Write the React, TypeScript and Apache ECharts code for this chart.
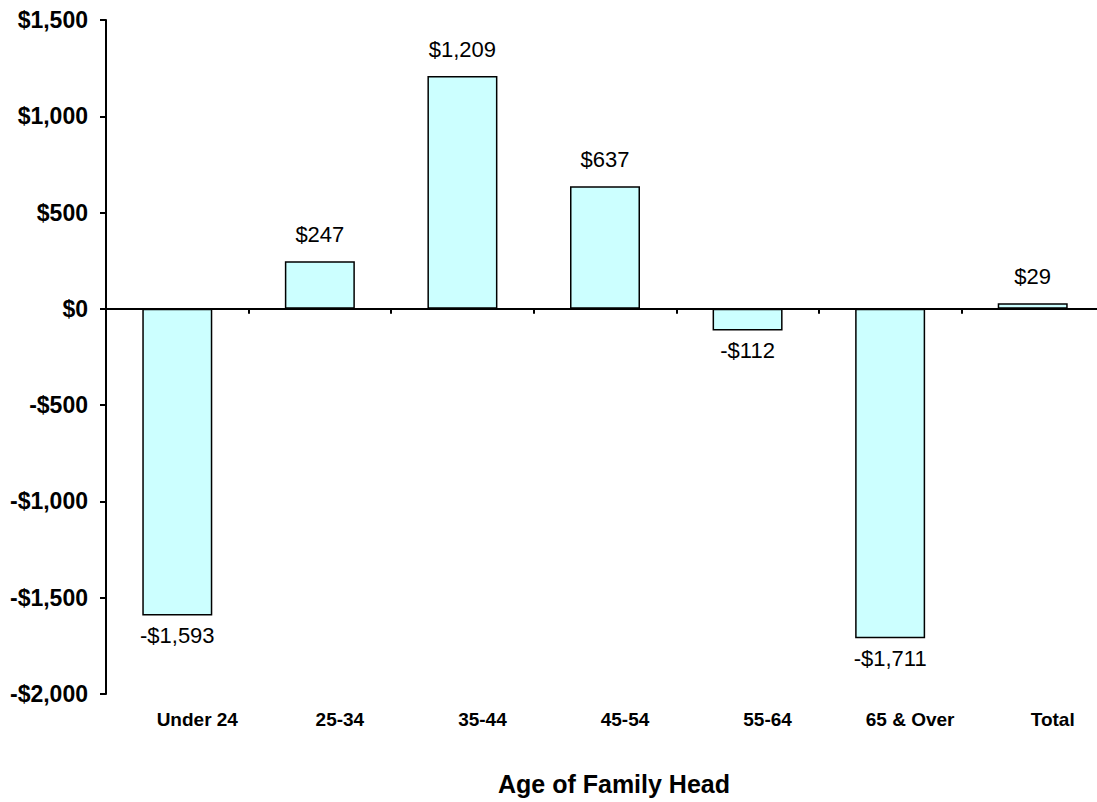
import React, { useEffect, useRef } from "react";
import * as echarts from "echarts";

const categories = ["Under 24", "25-34", "35-44", "45-54", "55-64", "65 & Over", "Total"];
const values = [-1593, 247, 1209, 637, -112, -1711, 29];
const yTicks = { min: -2000, max: 1500, interval: 500 };
const xAxisTitle = "Age of Family Head";

const money = (v: number) => {
  const s = "$" + Math.abs(v).toLocaleString("en-US");
  return v < 0 ? "-" + s : s;
};

export default function App() {
  const ref = useRef<HTMLDivElement>(null);

  useEffect(() => {
    document.body.style.margin = "0";
    document.body.style.overflow = "hidden";
    const chart = echarts.init(ref.current!, undefined, { renderer: "svg" });
    const font = "Arial, 'Liberation Sans', Helvetica, sans-serif";
    chart.setOption({
      animation: false,
      backgroundColor: "#ffffff",
      textStyle: { fontFamily: font },
      // the plot runs a few pixels past the right edge of the page
      grid: { left: 106, right: 0, top: 20, bottom: 108 },
      xAxis: [
        {
          type: "category",
          data: categories,
          position: "bottom",
          axisLine: { show: false, onZero: false },
          axisTick: { show: false },
          axisLabel: {
            margin: 16,
            fontSize: 19,
            fontWeight: "bold",
            color: "#000",
            fontFamily: font,
            padding: [0, 0, 0, 40],
          },
          splitLine: { show: false },
        },
        {
          type: "category",
          data: categories,
          position: "bottom",
          axisLine: { show: true, onZero: true, lineStyle: { color: "#000", width: 2 } },
          axisTick: { show: true, length: 5, lineStyle: { color: "#000", width: 2 } },
          axisLabel: { show: false },
          splitLine: { show: false },
        },
      ],
      yAxis: {
        type: "value",
        min: yTicks.min,
        max: yTicks.max,
        interval: yTicks.interval,
        axisLine: { show: true, lineStyle: { color: "#000", width: 2 } },
        axisTick: { show: true, length: 6, lineStyle: { color: "#000", width: 2 } },
        splitLine: { show: false },
        axisLabel: {
          margin: 18,
          fontSize: 23,
          fontWeight: "bold",
          color: "#000",
          fontFamily: font,
          formatter: (v: number) => money(v),
        },
      },
      graphic: [
        {
          type: "text",
          left: 498,
          top: 771,
          style: {
            text: xAxisTitle,
            fontSize: 25,
            fontWeight: "bold",
            fill: "#000",
            fontFamily: font,
          },
        },
      ],
      series: [
        {
          type: "bar",
          xAxisIndex: 0,
          data: values.map((v) => ({
            value: v,
            label: v >= 0 ? { position: "top", distance: 16 } : { position: "bottom", distance: 9 },
          })),
          barWidth: 70,
          itemStyle: { color: "#CCFFFF", borderColor: "#000", borderWidth: 1.5 },
          label: {
            show: true,
            fontSize: 22,
            color: "#000",
            fontFamily: font,
            formatter: (p: any) => money(p.value),
          },
        },
      ],
    });
    return () => chart.dispose();
  }, []);

  return (
    <div
      ref={ref}
      style={{ position: "absolute", left: 0, top: 0, width: 1104, height: 802 }}
    />
  );
}
